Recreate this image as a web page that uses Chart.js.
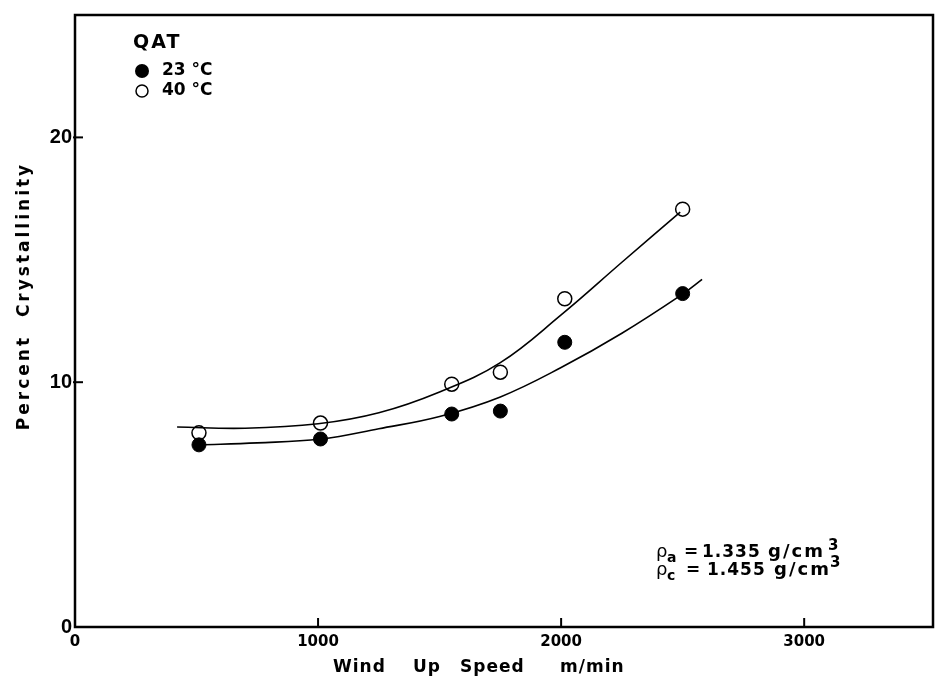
<!DOCTYPE html>
<html lang="en">
<head>
    <meta charset="UTF-8" />
    <title>Percent Crystallinity vs Wind Up Speed</title>
    <script src="https://cdn.jsdelivr.net/npm/chart.js"></script>
    <style>
        html, body { margin: 0; background: #fff; overflow: hidden; }
        canvas { display: block; }
    </style>
</head>
<body>
    <canvas id="crystGraph" width="936" height="679"></canvas>

<script>
    // measured points (wind up speed in m/min, crystallinity in %)
    const speeds = [510, 1010, 1550, 1750, 2015, 2500];
    const cryst23 = [7.44, 7.68, 8.70, 8.82, 11.63, 13.62];
    const cryst40 = [7.93, 8.33, 9.92, 10.41, 13.41, 17.07];

    // hand drawn fitted curves
    const fitSpeed40 = [420, 700, 1000, 1250, 1500, 1750, 2000, 2250, 2490];
    const fit40 = [8.17, 8.12, 8.3, 8.75, 9.6, 10.8, 12.75, 14.9, 16.95];
    const fitSpeed23 = [510, 750, 1010, 1250, 1500, 1750, 2000, 2250, 2500, 2580];
    const fit23 = [7.44, 7.52, 7.68, 8.1, 8.6, 9.4, 10.6, 12.0, 13.6, 14.2];

    const xTicks = [0, 1000, 2000, 3000];
    const yTicks = [0, 10, 20];
    const seriesNames = ['23 °C', '40 °C'];

    function pairs(xs, ys) {
        return xs.map((x, i) => ({ x: x, y: ys[i] }));
    }

    // axes box, inward ticks, titles, legend and the density note
    const paperBits = {
        id: 'paperBits',
        beforeDatasetsDraw(chart) {
            const c = chart.ctx, a = chart.chartArea;
            const sx = chart.scales.x, sy = chart.scales.y;
            c.save();
            c.strokeStyle = '#000';
            c.lineWidth = 2.5;
            c.strokeRect(a.left, a.top, a.right - a.left, a.bottom - a.top);
            c.lineWidth = 2;
            xTicks.forEach(v => {
                if (v === 0) return;
                const px = sx.getPixelForValue(v);
                c.beginPath(); c.moveTo(px, a.bottom); c.lineTo(px, a.bottom - 9); c.stroke();
            });
            yTicks.forEach(v => {
                if (v === 0) return;
                const py = sy.getPixelForValue(v);
                c.beginPath(); c.moveTo(a.left - 2, py); c.lineTo(a.left + 8, py); c.stroke();
            });
            c.restore();
        },
        afterDraw(chart) {
            const c = chart.ctx;
            c.save();
            c.fillStyle = '#000';

            // y title
            c.save();
            c.translate(25, 296);
            c.rotate(-Math.PI / 2);
            c.font = 'bold 17px "DejaVu Sans"';
            c.letterSpacing = '3px';
            c.textAlign = 'center';
            c.textBaseline = 'middle';
            c.fillText('Percent  Crystallinity', 0, 0);
            c.restore();

            // x title
            c.font = 'bold 17px "DejaVu Sans"';
            c.letterSpacing = '1px';
            c.textAlign = 'left';
            c.textBaseline = 'middle';
            c.fillText('Wind', 333, 668);
            c.fillText('Up', 413, 668);
            c.fillText('Speed', 460, 668);
            c.fillText('m/min', 560, 668);

            // legend
            c.letterSpacing = '2px';
            c.font = 'bold 19px "DejaVu Sans"';
            c.fillText('QAT', 133, 43);
            c.letterSpacing = '0px';
            c.font = 'bold 17px "DejaVu Sans"';
            c.lineWidth = 1.5;
            c.beginPath(); c.arc(142, 71, 7, 0, Math.PI * 2); c.fill();
            c.fillText(seriesNames[0], 162, 71);
            c.beginPath(); c.arc(142, 91, 6, 0, Math.PI * 2); c.stroke();
            c.fillText(seriesNames[1], 162, 91);

            // density note
            c.textBaseline = 'alphabetic';
            c.font = '18px "DejaVu Sans"';
            c.fillText('ρ', 656, 557);
            c.fillText('ρ', 656, 575);
            c.font = 'bold 14px "DejaVu Sans"';
            c.fillText('a', 667, 562);
            c.fillText('c', 667, 580);
            c.font = 'bold 17px "DejaVu Sans"';
            c.letterSpacing = '1px';
            c.fillText('=', 684, 557);
            c.fillText('=', 686, 575);
            c.fillText('1.335', 702, 557);
            c.fillText('1.455', 707, 575);
            c.font = 'bold 18px "DejaVu Sans"';
            c.letterSpacing = '2px';
            c.fillText('g/cm', 768, 557);
            c.fillText('g/cm', 774, 575);
            c.letterSpacing = '0px';
            c.font = 'bold 15px "DejaVu Sans"';
            c.fillText('3', 828, 550);
            c.fillText('3', 830, 567);
            c.restore();
        }
    };

    const grafico = document.getElementById('crystGraph');
    new Chart(grafico, {
        type: 'scatter',
        data: {
            datasets: [
                {
                    label: 'fit 40',
                    type: 'line',
                    data: pairs(fitSpeed40, fit40),
                    borderColor: '#000',
                    borderWidth: 1.6,
                    pointRadius: 0,
                    tension: 0.4,
                    fill: false
                },
                {
                    label: 'fit 23',
                    type: 'line',
                    data: pairs(fitSpeed23, fit23),
                    borderColor: '#000',
                    borderWidth: 1.6,
                    pointRadius: 0,
                    tension: 0.4,
                    fill: false
                },
                {
                    label: seriesNames[0],
                    data: pairs(speeds, cryst23),
                    pointRadius: 7,
                    backgroundColor: '#000',
                    borderColor: '#000',
                    borderWidth: 1
                },
                {
                    label: seriesNames[1],
                    data: pairs(speeds, cryst40),
                    pointRadius: 7,
                    backgroundColor: '#fff',
                    borderColor: '#000',
                    borderWidth: 1.5
                }
            ]
        },
        options: {
            responsive: false,
            animation: false,
            layout: { autoPadding: false, padding: { top: 12, right: 3, left: 0, bottom: 0 } },
            plugins: {
                legend: { display: false },
                tooltip: { enabled: false }
            },
            scales: {
                x: {
                    type: 'linear',
                    min: 0,
                    max: 3530,
                    grid: { display: false, drawTicks: false },
                    border: { display: false },
                    afterBuildTicks: s => { s.ticks = xTicks.map(v => ({ value: v })); },
                    afterFit: s => { s.height = 52; },
                    ticks: {
                        color: '#000',
                        padding: 6,
                        maxRotation: 0,
                        callback: v => String(v),
                        font: { family: 'DejaVu Sans', weight: 'bold', size: 15 }
                    }
                },
                y: {
                    min: 0,
                    max: 25,
                    grid: { display: false, drawTicks: false },
                    border: { display: false },
                    afterBuildTicks: s => { s.ticks = yTicks.map(v => ({ value: v })); },
                    afterFit: s => { s.width = 75; },
                    ticks: {
                        color: '#000',
                        padding: 3,
                        callback: v => String(v),
                        font: { family: 'Liberation Sans', weight: 'bold', size: 20 }
                    }
                }
            }
        },
        plugins: [paperBits]
    });
</script>
</body>
</html>
